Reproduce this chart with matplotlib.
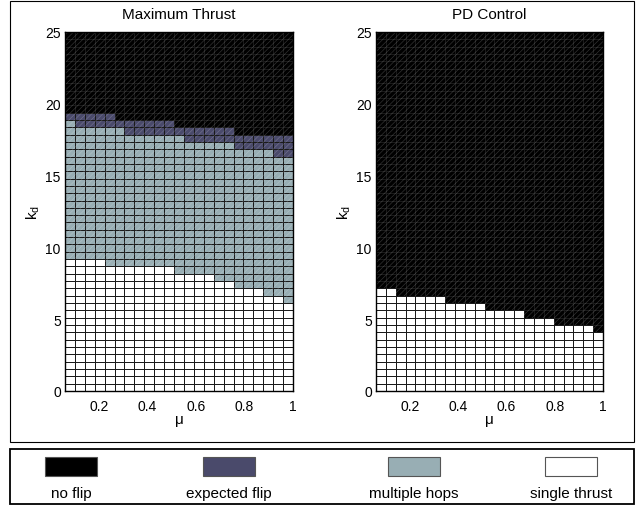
import numpy as np
import matplotlib
matplotlib.use('Agg')
import matplotlib.pyplot as plt
from matplotlib.colors import ListedColormap, BoundaryNorm
from matplotlib.patches import Rectangle

plt.rcParams['font.family'] = ['Liberation Sans', 'DejaVu Sans']
plt.rcParams['font.size'] = 10
plt.rcParams['hatch.linewidth'] = 0.5

# grid: mu columns x kd rows
mu_lo, mu_hi = 0.06, 1.0
kd_lo, kd_hi = 0.0, 25.0
n_cols = 23
n_rows = 49

# outcome classes, bottom to top of each column (given as row counts)
# Maximum Thrust: rows below these are single thrust / multiple hops / expected flip
mt_single = [18, 18, 18, 18, 17, 17, 17, 17, 17, 17, 17, 16, 16, 16, 16, 15, 15, 14, 14, 14, 13, 13, 12]
mt_hops = [37, 36, 36, 36, 36, 36, 35, 35, 35, 35, 35, 35, 34, 34, 34, 34, 34, 33, 33, 33, 33, 32, 32]
mt_flip = [38, 38, 38, 38, 38, 37, 37, 37, 37, 37, 37, 36, 36, 36, 36, 36, 36, 35, 35, 35, 35, 35, 35]
# PD Control: only single thrust / no flip
pd_single = [14, 14, 13, 13, 13, 13, 13, 12, 12, 12, 12, 11, 11, 11, 11, 10, 10, 10, 9, 9, 9, 9, 8]

labels = ['no flip', 'expected flip', 'multiple hops', 'single thrust']
colors = ['#000000', '#4a4a6b', '#98aeb4', '#ffffff']

mu_edges = np.linspace(mu_lo, mu_hi, n_cols + 1)
kd_edges = np.linspace(kd_lo, kd_hi, n_rows + 1)
row_h = (kd_hi - kd_lo) / n_rows


def build(single, hops=None, flip=None):
    C = np.zeros((n_rows, n_cols))  # 0 = no flip
    rows = np.arange(n_rows)
    for j in range(n_cols):
        if flip is not None:
            C[rows < flip[j], j] = 1
            C[rows < hops[j], j] = 2
        C[rows < single[j], j] = 3
    return C


cmap = ListedColormap(colors)
norm = BoundaryNorm([-0.5, 0.5, 1.5, 2.5, 3.5], 4)

fig = plt.figure(figsize=(6.41, 5.06), dpi=100)

# outer frames
fig.patches.append(Rectangle((10 / 641, 1 - 443 / 506), 624 / 641, 441 / 506,
                             transform=fig.transFigure, fill=False, lw=0.8, ec='k'))
fig.patches.append(Rectangle((10 / 641, 1 - 505 / 506), 624 / 641, 55 / 506,
                             transform=fig.transFigure, fill=False, lw=1.3, ec='k'))

panels = [
    ('Maximum Thrust', build(mt_single, mt_hops, mt_flip), mt_single, [65 / 641, 0.2253, 228 / 641, 0.7095]),
    ('PD Control', build(pd_single), pd_single, [376 / 641, 0.2253, 227 / 641, 0.7095]),
]

for title, C, single, pos in panels:
    ax = fig.add_axes(pos)
    ax.pcolormesh(mu_edges, kd_edges, C, cmap=cmap, norm=norm,
                  edgecolors='#1a1a1a', linewidth=0.7)
    # faint diagonal rendering texture over the coloured cells
    y_low = np.array(single + [single[-1]]) * row_h
    ax.fill_between(mu_edges, y_low, kd_hi, step='post', facecolor='none',
                    hatch='//////', edgecolor=(1, 1, 1, 0.2), linewidth=0)
    ax.set_xlim(mu_lo, mu_hi)
    ax.set_ylim(kd_lo, kd_hi)
    ax.set_xticks([0.2, 0.4, 0.6, 0.8, 1.0])
    ax.set_xticklabels(['0.2', '0.4', '0.6', '0.8', '1'])
    ax.set_yticks([0, 5, 10, 15, 20, 25])
    ax.tick_params(axis='x', length=0, pad=6)
    ax.tick_params(axis='y', length=0, pad=3)
    for s in ax.spines.values():
        s.set_linewidth(1.0)
    ax.set_title(title, fontsize=11, pad=10)
    ax.set_xlabel('μ', fontsize=11, labelpad=-1)
    ax.set_ylabel('k$_\\mathregular{d}$', fontsize=11, labelpad=2)

# legend strip
leg_x = [71, 229, 414, 571]
for lab, col, xc in zip(labels, colors, leg_x):
    fig.patches.append(Rectangle(((xc - 26) / 641, 1 - 477 / 506), 52 / 641, 19 / 506,
                                 transform=fig.transFigure, fc=col, ec='#555555', lw=0.8))
    fig.text(xc / 641, 1 - 494 / 506, lab, ha='center', va='center', fontsize=11)

fig.savefig('out.png', dpi=100)
